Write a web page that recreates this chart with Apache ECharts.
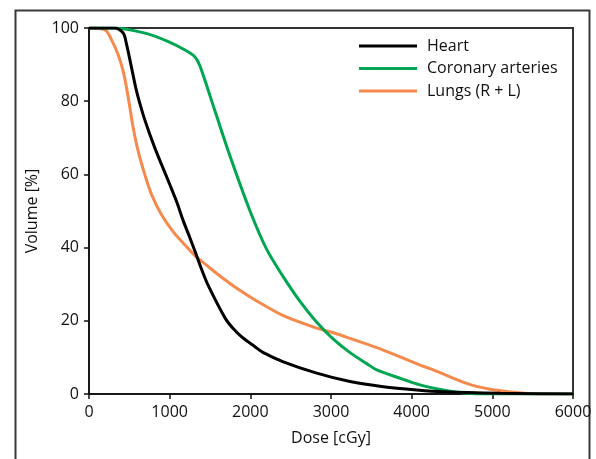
<!DOCTYPE html>
<html>
<head>
<meta charset="utf-8">
<script src="https://cdn.jsdelivr.net/npm/echarts@6/dist/echarts.min.js"></script>
<style>
html,body{margin:0;padding:0;background:#fff;}
#c{width:596px;height:459px;}
</style>
</head>
<body>
<div id="c"></div>
<script>
const xTicks = [0, 1000, 2000, 3000, 4000, 5000, 6000];
const yTicks = [0, 20, 40, 60, 80, 100];
const seriesNames = ['Heart', 'Coronary arteries', 'Lungs (R + L)'];

const doseHeart = [0, 322, 425, 467, 529, 591, 673, 756, 818, 901, 1004, 1087, 1169, 1252, 1314, 1397, 1479, 1686, 1790, 1893, 2058, 2161, 2409, 2823, 3236, 3648, 4062, 4389, 5095, 6000];
const volHeart  = [100, 100, 98.6, 95.4, 89.0, 82.6, 76.2, 70.8, 67.1, 62.6, 57.1, 52.5, 47.3, 42.6, 39.0, 34.0, 29.6, 20.8, 17.8, 15.6, 12.9, 11.3, 8.8, 5.7, 3.4, 2.0, 1.1, 0.6, 0.2, 0];

const doseCoronary = [0, 300, 694, 983, 1190, 1314, 1376, 1562, 1748, 1996, 2203, 2409, 2616, 2823, 3029, 3236, 3443, 3567, 3856, 4103, 4389, 4599, 4847, 6000];
const volCoronary  = [100, 100, 98.6, 96.3, 94.0, 92.1, 89.6, 77.3, 65.0, 50.0, 39.5, 32.0, 25.3, 19.6, 15.0, 11.3, 8.3, 6.6, 4.3, 2.5, 1.1, 0.4, 0, 0];

const doseLungs = [0, 198, 281, 363, 425, 467, 508, 549, 611, 694, 777, 901, 1045, 1190, 1314, 1479, 1603, 1851, 2058, 2409, 2823, 3050, 3236, 3648, 4103, 4268, 4682, 4971, 5302, 5591, 6000];
const volLungs  = [100, 99.5, 96.7, 92.6, 88.1, 83.5, 78.1, 72.6, 66.2, 59.8, 54.4, 48.9, 44.3, 40.7, 37.8, 34.8, 32.6, 28.6, 25.7, 21.4, 18.0, 16.6, 15.2, 12.0, 7.9, 6.6, 2.9, 1.3, 0.4, 0, 0];

const colors = ['#000000', '#00a651', '#f58a4c'];

function zip(xs, ys) { return xs.map((x, i) => [x, ys[i]]); }

const chart = echarts.init(document.getElementById('c'), null, {renderer: 'canvas'});
const font = '"Open Sans", "Noto Sans", sans-serif';

chart.setOption({
  animation: false,
  backgroundColor: '#fff',
  graphic: [{
    type: 'rect', left: 13, top: 8,
    shape: {x: 0, y: 0, width: 574, height: 470},
    style: {fill: 'none', stroke: '#3a3a3a', lineWidth: 2},
    silent: true
  }],
  grid: {left: 89, top: 28, right: 23, bottom: 65, show: true, borderColor: '#333', borderWidth: 2, backgroundColor: 'transparent'},
  legend: {
    orient: 'vertical', left: 359, top: 38, padding: 0,
    icon: 'rect', itemWidth: 58, itemHeight: 3, itemGap: 6.5,
    textStyle: {fontFamily: font, fontSize: 16, color: '#111', padding: [0, 0, 0, 5]},
    data: seriesNames
  },
  xAxis: {
    type: 'value', min: xTicks[0], max: xTicks[xTicks.length - 1], interval: 1000,
    name: 'Dose [cGy]', nameLocation: 'middle', nameGap: 36,
    nameTextStyle: {fontFamily: font, fontSize: 16, color: '#111'},
    axisLine: {show: true, lineStyle: {color: '#111', width: 1.5}},
    axisTick: {show: true, inside: false, length: 5, lineStyle: {color: '#111', width: 1.5}},
    axisLabel: {fontFamily: font, fontSize: 16, color: '#111', margin: 10, formatter: v => String(v)},
    splitLine: {show: false}
  },
  yAxis: {
    type: 'value', min: yTicks[0], max: yTicks[yTicks.length - 1], interval: 20,
    name: 'Volume [%]', nameLocation: 'middle', nameGap: 47, nameRotate: 90,
    nameTextStyle: {fontFamily: font, fontSize: 16, color: '#111'},
    axisLine: {show: true, lineStyle: {color: '#111', width: 1.5}},
    axisTick: {show: true, inside: false, length: 5, lineStyle: {color: '#111', width: 1.5}},
    axisLabel: {fontFamily: font, fontSize: 16, color: '#111', margin: 10},
    splitLine: {show: false}
  },
  series: [
    {name: seriesNames[0], type: 'line', data: zip(doseHeart, volHeart), smooth: 0.3, symbol: 'none',
     lineStyle: {color: colors[0], width: 3}, itemStyle: {color: colors[0]}, z: 4},
    {name: seriesNames[1], type: 'line', data: zip(doseCoronary, volCoronary), smooth: 0.3, symbol: 'none',
     lineStyle: {color: colors[1], width: 3}, itemStyle: {color: colors[1]}, z: 3},
    {name: seriesNames[2], type: 'line', data: zip(doseLungs, volLungs), smooth: 0.3, symbol: 'none',
     lineStyle: {color: colors[2], width: 3}, itemStyle: {color: colors[2]}, z: 2}
  ]
});
</script>
</body>
</html>
